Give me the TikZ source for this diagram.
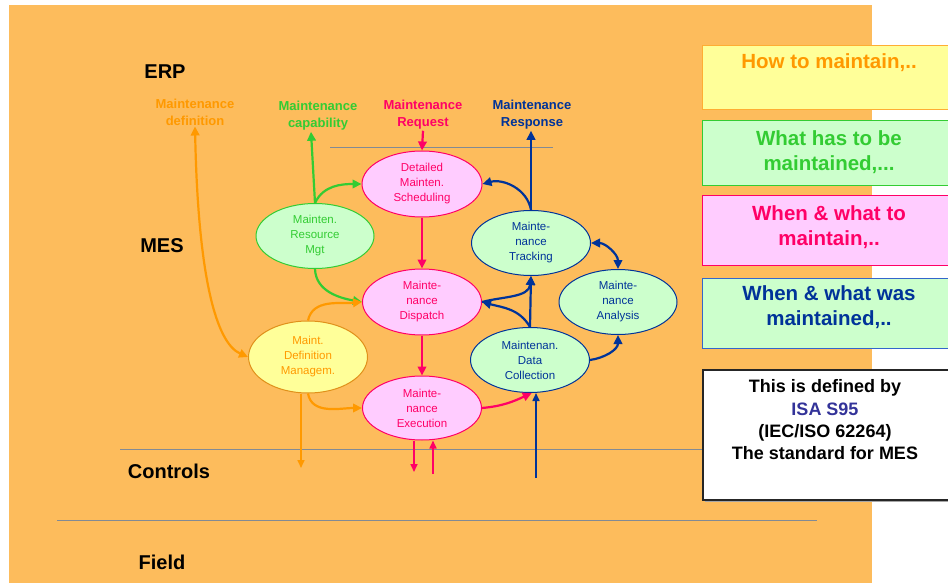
\documentclass[tikz,border=0pt]{standalone}
\usepackage{fontspec}
\setmainfont{Liberation Sans}
\usetikzlibrary{shapes.geometric,arrows.meta}

\definecolor{bgor}{RGB}{253,188,92}
\definecolor{pinkT}{HTML}{FF0066}
\definecolor{pinkF}{HTML}{FFCCFF}
\definecolor{greenT}{HTML}{33CC33}
\definecolor{greenF}{HTML}{CCFFCC}
\definecolor{navy}{HTML}{003399}
\definecolor{yelF}{HTML}{FFFF99}
\definecolor{orT}{HTML}{FF9900}
\definecolor{orEdge}{HTML}{E0901A}
\definecolor{isa}{HTML}{333399}
\definecolor{sepgray}{HTML}{828A94}
\definecolor{boxblue}{HTML}{3366CC}

\tikzset{
  func/.style={ellipse, draw, line width=1pt, inner sep=0pt, align=center,
    minimum width=119pt, minimum height=65pt,
    font=\fontsize{11.5}{15}\selectfont},
  pinkfunc/.style={func, fill=pinkF, draw=pinkT, text=pinkT},
  greenfunc/.style={func, fill=greenF, draw=greenT, text=greenT},
  bluefunc/.style={func, fill=greenF, draw=navy, text=navy},
  yelfunc/.style={func, fill=yelF, draw=orEdge, text=orT},
  flowlabel/.style={font=\bfseries\fontsize{13}{17}\selectfont, align=center, inner sep=1pt},
  layer/.style={font=\bfseries\fontsize{20}{24}\selectfont, inner sep=0pt},
  boxtext/.style={font=\bfseries\fontsize{20.5}{24.5}\selectfont, align=center, inner sep=0pt},
  sep/.style={draw=sepgray, line width=1pt},
  ftip/.tip={Triangle[length=9pt,width=8.5pt]},
  flow/.style={line width=2.2pt, -ftip},
  thinflow/.style={line width=1.6pt, -{Triangle[length=8pt,width=7pt]}},
  pk/.style={flow, draw=pinkT},
  gr/.style={flow, draw=greenT},
  bl/.style={flow, draw=navy},
  orr/.style={flow, draw=orT},
  rbox/.style={rectangle, line width=1.2pt, minimum width=262pt, anchor=north west, inner sep=0pt}
}

\begin{document}
\begin{tikzpicture}[x=1pt,y=1pt]
\clip (0,0) rectangle (948,-583);
\fill[white] (0,0) rectangle (948,-583);
\fill[bgor] (9,-5) rectangle (872,-583);

% layer separators
\draw[sep] (330,-148) -- (553,-148);
\draw[sep] (120,-449) -- (702,-449);
\draw[sep] (57,-520) -- (817,-520);

% layer names
\node[layer] (erp) at (165,-72) {ERP};
\node[layer] (mes) at (162,-246) {MES};
\node[layer] (ctl) at (169,-471) {Controls};
\node[layer] (fld) at (162,-562) {Field};

% flows to and from ERP
\node[flowlabel, text=orT] (mdef) at (195,-112) {Maintenance\\definition};
\node[flowlabel, text=greenT] (cap) at (318,-116) {Maintenance\\capability};
\node[flowlabel, text=pinkT] (req) at (423,-115) {Maintenance\\Request};
\node[flowlabel, text=navy] (resp) at (532,-115) {Maintenance\\Response};

% maintenance functions
\node[pinkfunc, minimum width=120pt, minimum height=66pt] (sched) at (422,-184) {Detailed\\Mainten.\\Scheduling};
\node[greenfunc, minimum width=118pt] (rm) at (315,-236) {Mainten.\\Resource\\Mgt};
\node[bluefunc] (track) at (531,-243) {Mainte-\\nance\\Tracking};
\node[pinkfunc, minimum height=66pt] (disp) at (422,-302) {Mainte-\\nance\\Dispatch};
\node[bluefunc, minimum width=118pt] (ana) at (618,-302) {Mainte-\\nance\\Analysis};
\node[yelfunc, minimum height=72pt] (defm) at (308,-357) {Maint.\\Definition\\Managem.};
\node[bluefunc] (dc) at (530,-360) {Maintenan.\\Data\\Collection};
\node[pinkfunc, minimum height=64pt] (exec) at (422,-408) {Mainte-\\nance\\Execution};

% free ends towards the control level
\coordinate (xout) at (414,-472);
\coordinate (xin) at (433,-474);
\coordinate (dout) at (301,-468);
\coordinate (cin) at (536,-478);

% pink flows
\draw[pk] (req.south) -- (sched.north);
\draw[pk] (sched.south) -- (disp.north);
\draw[pk] (disp.south) -- (exec.north);
\draw[pk] (exec.east) to[out=5,in=205] (dc.-87);
\draw[thinflow, draw=pinkT] (exec.south -| xout) -- (xout);
\draw[thinflow, draw=pinkT] (xin) -- (exec.south -| xin);

% green flows
\draw[gr] (rm.north) -- ([xshift=-7pt]cap.south);
\draw[gr] (rm.north) to[out=65,in=180] (sched.west);
\draw[gr] (rm.south) to[out=-88,in=170] (disp.west);

% orange flows
\draw[orr, ftip-ftip] (mdef.south) .. controls +(3,-150) and +(-32,14) .. (defm.west);
\draw[orr] (defm.north) to[out=78,in=185] (disp.west);
\draw[orr] (defm.south) to[out=-80,in=180] (exec.west);
\draw[thinflow, draw=orT] (defm.south -| dout) -- (dout);

% blue flows
\draw[bl] (track.north) -- (track.north |- resp.south);
\draw[bl] (track.north) to[out=100,in=15] (sched.east);
\draw[bl, ftip-ftip] (track.east) to[out=0,in=90] (ana.north);
\draw[bl] (dc.north) -- (track.south);
\draw[bl] (dc.north) to[out=120,in=-15] (disp.east);
\draw[bl] (disp.east) to[out=15,in=-95] (track.south);
\draw[bl] (dc.east) to[out=8,in=-90] (ana.south);
\draw[thinflow, draw=navy] (cin) -- (cin |- dc.south);

% legend boxes on the right
\node[rbox, fill=yelF, draw=orT!80, minimum height=64pt] (bhow) at (702,-45) {};
\node[rbox, fill=greenF, draw=greenT, minimum height=65pt] (bwhat) at (702,-120) {};
\node[rbox, fill=pinkF, draw=pinkT, minimum height=70pt] (bwhen) at (702,-195) {};
\node[rbox, fill=greenF, draw=boxblue, minimum height=70pt] (bwas) at (702,-278) {};
\fill[gray!70] (705,-372) rectangle (960,-502);
\node[rbox, fill=white, draw=black!85, line width=1.5pt, minimum height=130pt] (bisa) at (702,-369) {};

\node[boxtext, text=orT] (thow) at (829,-63) {How to maintain,..};
\node[boxtext, text=greenT] (twhat) at (829,-152) {What has to be\\maintained,...};
\node[boxtext, text=pinkT] (twhen) at (829,-227) {When \& what to\\maintain,..};
\node[boxtext, text=navy] (twas) at (829,-307) {When \& what was\\maintained,..};
\node[align=center, font=\bfseries\fontsize{18}{22.3}\selectfont, inner sep=0pt] (tisa) at (825,-420)
  {This is defined by\\\textcolor{isa}{ISA S95}\\(IEC/ISO 62264)\\The standard for MES};
\end{tikzpicture}
\end{document}
